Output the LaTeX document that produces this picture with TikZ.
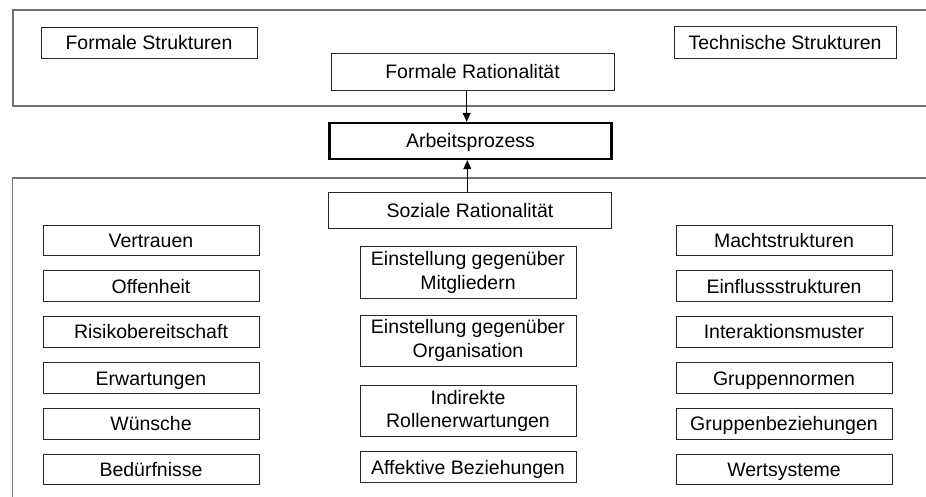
\documentclass[tikz,border=0pt]{standalone}
\usepackage{fontspec}
\setmainfont{Liberation Sans}
\usetikzlibrary{arrows.meta}
\begin{document}
\begin{tikzpicture}[x=1pt,y=-1pt,
  frame/.style={draw=black!55,line width=1.2pt},
  box/.style={draw=black!85,line width=0.9pt,rectangle,inner sep=0pt,align=center,
    font=\fontsize{19.5}{23.5}\selectfont,text=black},
  one/.style={box,text height=14pt,text depth=0pt},
  sbox/.style={one,minimum width=216,minimum height=30.7},
  arr/.style={draw=black,line width=1pt,-{Triangle[length=9pt,width=8pt]}}]
\useasboundingbox (0,0) rectangle (926,497);
\fill[white] (0,0) rectangle (926,497);
% frames
\draw[frame] (926,10) -- (13,10) -- (13,106) -- (926,106);
\draw[frame] (926,178) -- (12.5,178) -- (12.5,497);
% top area
\node[one,minimum width=216,minimum height=31] (fs) at (149,42.5) {Formale Strukturen};
\node[one,minimum width=222,minimum height=32.5] (ts) at (785,42.5) {Technische Strukturen};
\node[one,minimum width=283,minimum height=36.7] (fr) at (472.5,71.7) {Formale Rationalität};
\node[one,line width=2.4pt,draw=black,minimum width=282,minimum height=36] (ap) at (470.5,141) {Arbeitsprozess};
\node[one,minimum width=283,minimum height=36] (sr) at (470,210.3) {Soziale Rationalität};
% center column
\node[box,minimum width=216,minimum height=51.6] (c1) at (468,272.5) {Einstellung gegenüber\\Mitgliedern};
\node[box,minimum width=216,minimum height=51] (c2) at (468,340.5) {Einstellung gegenüber\\Organisation};
\node[box,minimum width=216,minimum height=51.7] (c3) at (468,411) {Indirekte\\Rollenerwartungen};
\node[one,minimum width=216,minimum height=30.6] (c4) at (468,467) {Affektive Beziehungen};
% left column
\node[sbox] (l1) at (151,240.3) {Vertrauen};
\node[sbox] (l2) at (151,286) {Offenheit};
\node[sbox] (l3) at (151,331.7) {Risikobereitschaft};
\node[sbox] (l4) at (151,378) {Erwartungen};
\node[sbox] (l5) at (151,423.7) {Wünsche};
\node[sbox] (l6) at (151,469.3) {Bedürfnisse};
% right column
\node[sbox] (r1) at (784,240.3) {Machtstrukturen};
\node[sbox] (r2) at (784,286) {Einflussstrukturen};
\node[sbox] (r3) at (784,331.7) {Interaktionsmuster};
\node[sbox] (r4) at (784,378) {Gruppennormen};
\node[sbox] (r5) at (784,423.7) {Gruppenbeziehungen};
\node[sbox] (r6) at (784,469.3) {Wertsysteme};
% arrows
\draw[arr] ([xshift=-5.8]fr.south) -- ([xshift=-3.8]ap.north);
\draw[arr] ([xshift=-2.7]sr.north) -- ([xshift=-3.2]ap.south);
\end{tikzpicture}
\end{document}
